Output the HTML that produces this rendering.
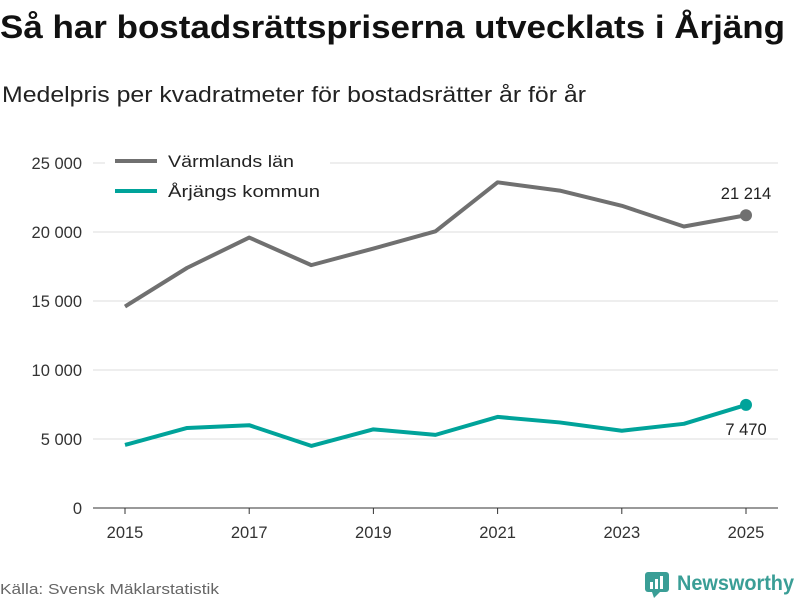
<!DOCTYPE html>
<html><head><meta charset="utf-8"><style>
body{margin:0;background:#fff;}
svg{display:block;font-family:"Liberation Sans","DejaVu Sans",sans-serif;}
</style></head><body>
<svg id="chart" width="800" height="600" viewBox="0 0 800 600">
<text x="0" y="38" font-size="32" font-weight="bold" fill="#111" textLength="785" lengthAdjust="spacingAndGlyphs">Så har bostadsrättspriserna utvecklats i Årjäng</text>
<text x="2" y="102" font-size="22" fill="#222" textLength="584" lengthAdjust="spacingAndGlyphs">Medelpris per kvadratmeter för bostadsrätter år för år</text>
<g id="grid"></g><g id="axes"></g><g id="series"></g>
<g>
<rect x="105" y="148" width="225" height="60" fill="#fff"/>
<line x1="115" y1="161" x2="157" y2="161" stroke="#707070" stroke-width="4"/>
<text x="168" y="167" font-size="17" fill="#222" textLength="126" lengthAdjust="spacingAndGlyphs">Värmlands län</text>
<line x1="115" y1="191" x2="157" y2="191" stroke="#00a39a" stroke-width="4"/>
<text x="168" y="197" font-size="17" fill="#222" textLength="152" lengthAdjust="spacingAndGlyphs">Årjängs kommun</text>
</g>
<text x="0" y="594" font-size="15" fill="#666" textLength="219" lengthAdjust="spacingAndGlyphs">Källa: Svensk Mäklarstatistik</text>
<g>
<rect x="645" y="572" width="24" height="20" rx="3" fill="#3a9e96"/>
<polygon points="652,592 660,592 654,598" fill="#3a9e96"/>
<rect x="650" y="582" width="3" height="7" fill="#fff"/><rect x="655" y="579" width="3" height="10" fill="#fff"/><rect x="660" y="576" width="3" height="13" fill="#fff"/>
<text x="677" y="590" font-size="21" font-weight="bold" fill="#3a9e96" textLength="117" lengthAdjust="spacingAndGlyphs">Newsworthy</text>
</g>
</svg>
<script>
const years=[2015,2016,2017,2018,2019,2020,2021,2022,2023,2024,2025];
const varmland=[14600,17400,19600,17600,18800,20050,23600,23000,21900,20400,21214];
const arjang=[4570,5800,6000,4500,5700,5300,6600,6200,5600,6100,7470];
const yTicks=[0,5000,10000,15000,20000,25000];
const yTickLabels=["0","5 000","10 000","15 000","20 000","25 000"];
const xTicks=[2015,2017,2019,2021,2023,2025];
const NS="http://www.w3.org/2000/svg";
const X=v=>125+(v-2015)*62.1;
const Y=v=>508-v*0.0138;
function mk(t,a,p){const e=document.createElementNS(NS,t);for(const k in a)e.setAttribute(k,a[k]);p.appendChild(e);return e;}
const grid=document.getElementById('grid'),axes=document.getElementById('axes'),ser=document.getElementById('series');
yTicks.forEach((v,i)=>{
 if(v>0){const l=mk('line',{x1:93,x2:778,y1:Y(v),y2:Y(v),stroke:'#ddd','stroke-width':1},grid);
 
 }
 const t=mk('text',{x:82,y:Y(v)+6,'font-size':16.5,fill:'#333','text-anchor':'end'},axes);t.textContent=yTickLabels[i];
 
 
});
const base=mk('line',{x1:93,x2:778,y1:508,y2:508,stroke:'#333','stroke-width':1},axes);


xTicks.forEach(v=>{
 mk('line',{x1:X(v),x2:X(v),y1:508,y2:514,stroke:'#333'},axes);
 const t=mk('text',{x:X(v),y:538,'font-size':16.5,fill:'#333','text-anchor':'middle'},axes);t.textContent=v;
 
 
});
function line(data,color,name,lbl,dy){
 const p=mk('polyline',{points:data.map((v,i)=>X(years[i])+','+Y(v)).join(' '),fill:'none',stroke:color,'stroke-width':4,'stroke-linejoin':'round'},ser);
 
 
 const last=data.length-1;
 const c=mk('circle',{cx:X(years[last]),cy:Y(data[last]),r:6,fill:color},ser);
 
 
 const t=mk('text',{x:X(years[last]),y:Y(data[last])+dy,'font-size':16.5,fill:'#222','text-anchor':'middle'},ser);
 t.textContent=lbl(data[last]);
 
 
}
const fmt=v=>String(v).replace(/\B(?=(\d{3})+(?!\d))/g,' ');
line(varmland,'#707070','varmland',fmt,-16);
line(arjang,'#00a39a','arjang',fmt,30);
</script>
</body></html>
